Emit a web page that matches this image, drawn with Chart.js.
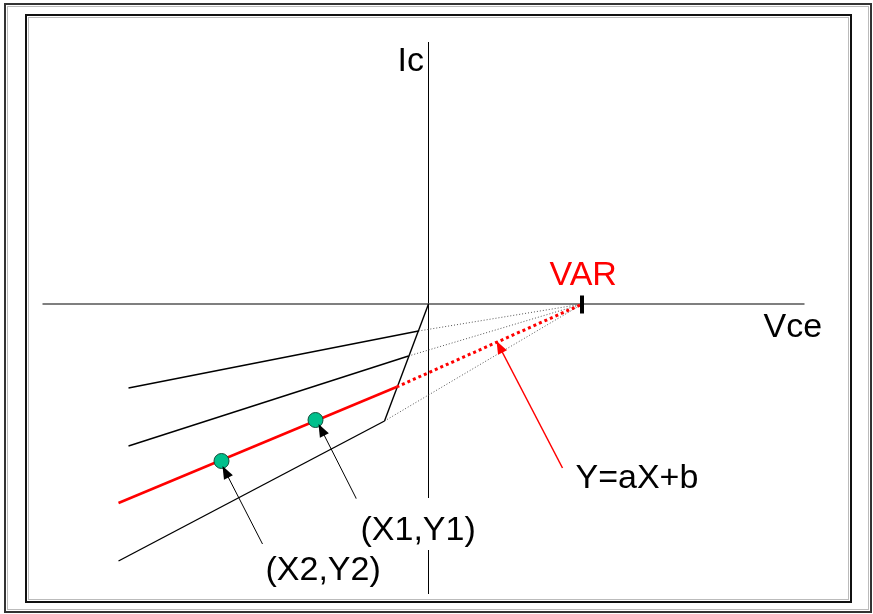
<!DOCTYPE html>
<html>
<head>
<meta charset="utf-8">
<script src="https://cdn.jsdelivr.net/npm/chart.js@4.4.1/dist/chart.umd.min.js"></script>
<style>
  html, body { margin: 0; padding: 0; background: #fff; }
  #wrap { width: 873px; height: 614px; position: relative; }
</style>
</head>
<body>
<div id="wrap"><canvas id="diagram"></canvas></div>
<script>
// Diagram units: origin where the Vce and Ic axes cross
const varPoint = [{x: 15.4, y: 0}];
const varTick = [{x: 15.35, y: 0.85}, {x: 15.35, y: -0.95}];

const vceAxis = [{x: -38.6, y: 0}, {x: 37.6, y: 0}];
const icAxis = [{x: 0, y: 26.2}, {x: 0, y: -29.0}];

// solid characteristic curves (left part) and their knee ends
const curve1 = [{x: -30.0, y: -8.4}, {x: -1.0, y: -2.7}];
const curve2 = [{x: -30.0, y: -14.2}, {x: -2.0, y: -5.2}];
const curveFit = [{x: -31.0, y: -19.9}, {x: -3.2, y: -8.3}];
const curve4 = [{x: -31.0, y: -25.7}, {x: -4.4, y: -11.7}];
const kneeLine = [{x: -4.4, y: -11.7}, {x: 0, y: 0}];

// measured points on the fitted curve
const samplePoints = [{x: -11.3, y: -11.6}, {x: -20.7, y: -15.7}];

// arrows: tail -> tip
const arrowP1 = [{x: -7.2, y: -19.5}, {x: -11.0, y: -12.0}];
const arrowP2 = [{x: -16.6, y: -24.0}, {x: -20.6, y: -16.2}];
const arrowFit = [{x: 13.4, y: -16.4}, {x: 6.8, y: -3.7}];

const labelTexts = ['Ic', 'VAR', 'Vce', 'Y=aX+b', '(X1,Y1)', '(X2,Y2)'];
const labelAnchors = [
  {x: -3.1, y: 23.3}, {x: 12.1, y: 1.9}, {x: 33.5, y: -3.3},
  {x: 14.7, y: -18.4}, {x: -6.8, y: -23.6}, {x: -16.3, y: -27.6}
];
const labelColors = ['#000', '#ff0000', '#000', '#000', '#000', '#000'];
const labelBoxed = [false, false, false, false, true, false];

function toVar(seg) {
  return [seg[seg.length - 1], varPoint[0]];
}

function line(data, color, width, dash) {
  return {
    data: data,
    showLine: true,
    borderColor: color,
    borderWidth: width,
    borderDash: dash || [],
    pointRadius: 0,
    fill: false
  };
}

const datasets = [
  {
    data: samplePoints,
    showLine: false,
    pointRadius: 7.5,
    pointBackgroundColor: '#00c08c',
    pointBorderColor: '#134d3a',
    pointBorderWidth: 1
  },
  Object.assign(line(arrowP1, '#000', 1), {arrow: true}),
  Object.assign(line(arrowP2, '#000', 1), {arrow: true}),
  Object.assign(line(arrowFit, '#ff0000', 1.5), {arrow: true}),
  line(varTick, '#000', 4),
  line(curveFit, '#ff0000', 2.5),
  line(toVar(curveFit), '#ff0000', 3, [3, 3]),
  line(curve1, '#000', 1.4),
  line(curve2, '#000', 1.4),
  line(curve4, '#000', 1.4),
  line(kneeLine, '#000', 1.4),
  line(toVar(curve1), '#555', 1, [1, 2]),
  line(toVar(curve2), '#555', 1, [1, 2]),
  line(toVar(curve4), '#555', 1, [1, 2]),
  line(vceAxis, '#555', 1.5),
  line(icAxis, '#000', 1)
];

const framePlugin = {
  id: 'frames',
  beforeDraw(chart) {
    const ctx = chart.ctx;
    ctx.save();
    ctx.fillStyle = '#fff';
    ctx.fillRect(0, 0, chart.width, chart.height);
    ctx.lineWidth = 2;
    ctx.strokeStyle = '#333';
    ctx.strokeRect(5, 4, 866, 608);
    ctx.strokeStyle = '#111';
    ctx.strokeRect(26, 15, 825, 587);
    ctx.lineWidth = 1;
    ctx.strokeStyle = '#bbb';
    ctx.strokeRect(7.5, 6.5, 861, 603);
    ctx.strokeRect(28.5, 17.5, 820, 582);
    ctx.restore();
  }
};

const arrowPlugin = {
  id: 'arrowHeads',
  afterDatasetsDraw(chart) {
    const ctx = chart.ctx;
    chart.data.datasets.forEach((ds, i) => {
      if (!ds.arrow) return;
      const pts = chart.getDatasetMeta(i).data;
      const a = pts[pts.length - 2], b = pts[pts.length - 1];
      const ang = Math.atan2(b.y - a.y, b.x - a.x);
      const len = 13, half = 5;
      ctx.save();
      ctx.translate(b.x, b.y);
      ctx.rotate(ang);
      ctx.fillStyle = ds.borderColor;
      ctx.beginPath();
      ctx.moveTo(0, 0);
      ctx.lineTo(-len, -half);
      ctx.lineTo(-len, half);
      ctx.closePath();
      ctx.fill();
      ctx.restore();
    });
  }
};

const labelPlugin = {
  id: 'labels',
  afterDatasetsDraw(chart) {
    const ctx = chart.ctx;
    const xs = chart.scales.x, ys = chart.scales.y;
    ctx.save();
    ctx.font = '34px "Liberation Sans", Arial, sans-serif';
    ctx.textBaseline = 'alphabetic';
    labelTexts.forEach((t, i) => {
      const px = xs.getPixelForValue(labelAnchors[i].x);
      const py = ys.getPixelForValue(labelAnchors[i].y);
      if (labelBoxed[i]) {
        const w = ctx.measureText(t).width;
        ctx.fillStyle = '#fff';
        ctx.fillRect(px - 4, py - 42, w + 8, 52);
      }
      ctx.fillStyle = labelColors[i];
      ctx.fillText(t, px, py);
    });
    ctx.restore();
  }
};

new Chart(document.getElementById('diagram'), {
  type: 'scatter',
  data: {datasets: datasets},
  options: {
    responsive: true,
    maintainAspectRatio: false,
    animation: false,
    events: [],
    layout: {padding: 0, autoPadding: false},
    plugins: {legend: {display: false}, tooltip: {enabled: false}},
    scales: {
      x: {type: 'linear', display: false, min: -42.85, max: 44.45},
      y: {type: 'linear', display: false, min: -31.0, max: 30.4}
    }
  },
  plugins: [framePlugin, arrowPlugin, labelPlugin]
});
</script>
</body>
</html>
